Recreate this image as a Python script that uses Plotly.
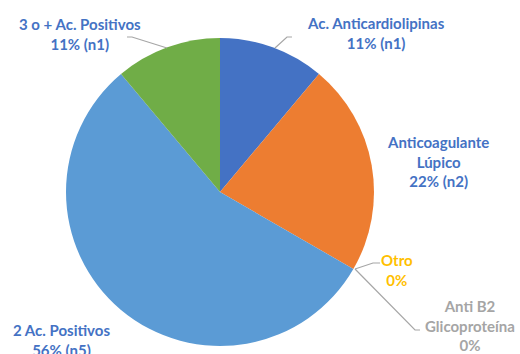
import plotly.graph_objects as go

W, H = 520, 354

categories = ["Ac. Anticardiolipinas", "Anticoagulante Lúpico", "Otro",
              "Anti B2 Glicoproteína", "2 Ac. Positivos", "3 o + Ac. Positivos"]
counts = [1, 2, 0, 0, 5, 1]
label_texts = ["Ac. Anticardiolipinas<br>11% (n1)",
               "Anticoagulante<br>Lúpico<br>22% (n2)",
               "Otro<br>0%",
               "Anti B2<br>Glicoproteína<br>0%",
               "2 Ac. Positivos<br>56% (n5)",
               "3 o + Ac. Positivos<br>11% (n1)"]
slice_colors = ["#4472C4", "#ED7D31", "#FFC000", "#A5A5A5", "#5B9BD5", "#70AD47"]
label_colors = ["#4472C4", "#4472C4", "#FFC000", "#A5A5A5", "#4472C4", "#4472C4"]
# label centre positions in pixels
label_pos = [(376, 33), (438, 161), (397, 270), (470, 325), (61, 340), (80, 34)]


def px(x, y):
    return x / W, 1 - y / H


cx, cy, r = 220, 192, 154
fig = go.Figure(go.Pie(
    labels=categories, values=counts, sort=False, direction="clockwise",
    rotation=0, textinfo="none", hoverinfo="label+percent",
    marker=dict(colors=slice_colors, line=dict(width=0)),
    domain=dict(x=[(cx - r) / W, (cx + r) / W], y=[1 - (cy + r) / H, 1 - (cy - r) / H]),
    showlegend=False,
))

for txt, col, (x, y) in zip(label_texts, label_colors, label_pos):
    ax, ay = px(x, y)
    fig.add_annotation(text=txt, x=ax, y=ay, xref="paper", yref="paper",
                       xanchor="center", yanchor="middle", showarrow=False,
                       font=dict(family="Lato", size=15, color=col, weight="bold"),
                       align="center")

leaders = [
    [(127, 37), (132, 37), (167, 48)],
    [(292, 37), (287, 37), (275, 48)],
    [(355, 269), (373, 263), (380, 263)],
    [(355, 269), (415, 330), (420, 330)],
]
for pts in leaders:
    path = "M " + " L ".join(f"{px(x, y)[0]:.4f},{px(x, y)[1]:.4f}" for x, y in pts)
    fig.add_shape(type="path", path=path, xref="paper", yref="paper",
                  line=dict(color="#A6A6A6", width=1.2))

fig.update_layout(width=W, height=H, margin=dict(l=0, r=0, t=0, b=0),
                  paper_bgcolor="white", plot_bgcolor="white")
fig.write_html("out.html")
